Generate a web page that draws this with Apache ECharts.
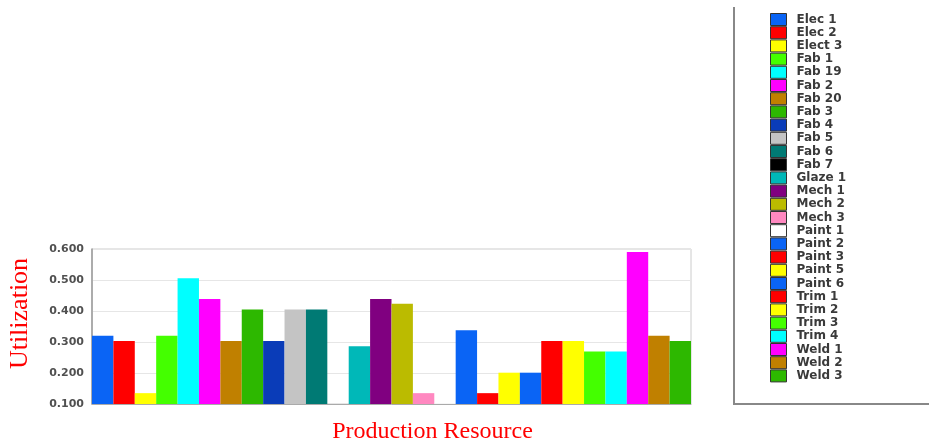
<!DOCTYPE html>
<html>
<head>
<meta charset="utf-8">
<script src="https://cdn.jsdelivr.net/npm/echarts@6/dist/echarts.min.js"></script>
<style>html,body{margin:0;padding:0;background:#fff;}#c{width:929px;height:443px;}</style>
</head>
<body>
<div id="c"></div>
<script>
const categories = ['Production Resource'];
const resources = ['Elec 1','Elec 2','Elect 3','Fab 1','Fab 19','Fab 2','Fab 20','Fab 3','Fab 4','Fab 5','Fab 6','Fab 7','Glaze 1','Mech 1','Mech 2','Mech 3','Paint 1','Paint 2','Paint 3','Paint 5','Paint 6','Trim 1','Trim 2','Trim 3','Trim 4','Weld 1','Weld 2','Weld 3'];
const utilization = [0.320,0.303,0.135,0.320,0.506,0.439,0.303,0.405,0.303,0.405,0.405,0.100,0.286,0.439,0.423,0.135,0.102,0.338,0.135,0.201,0.201,0.303,0.303,0.269,0.269,0.590,0.320,0.303];
const colors = ['#0a64f5','#ff0000','#ffff00','#44ff00','#00ffff','#ff00ff','#c08000','#2db800','#0a3cb8','#c4c4c4','#007a74','#000000','#00b8b8','#800080','#bbbb00','#ff88c0','#ffffff','#0a64f5','#ff0000','#ffff00','#0a64f5','#ff0000','#ffff00','#44ff00','#00ffff','#ff00ff','#c08000','#2db800'];
const yTicks = {min: 0.1, max: 0.6, interval: 0.1};

const chart = echarts.init(document.getElementById('c'), null, {renderer: 'canvas'});
const series = resources.map((name, i) => ({
  name: name,
  type: 'bar',
  data: [utilization[i]],
  barGap: '0%',
  barCategoryGap: '0%',
  itemStyle: {color: colors[i]}
}));
chart.setOption({
  animation: false,
  backgroundColor: '#fff',
  grid: {left: 92, right: 238, top: 249, bottom: 39, show: true, borderColor: '#cccccc', borderWidth: 1, outerBoundsMode: 'none', containLabel: false},
  xAxis: {
    type: 'category', data: categories,
    axisLabel: {show: false}, axisTick: {show: false},
    axisLine: {lineStyle: {color: '#aaaaaa', width: 1}},
    name: 'Production Resource', nameLocation: 'middle', nameGap: 16,
    nameTextStyle: {color: '#ff0000', fontFamily: 'Liberation Serif', fontSize: 24, padding: [0, 0, 0, 82]}
  },
  yAxis: {
    type: 'value', min: yTicks.min, max: yTicks.max, interval: yTicks.interval,
    axisLine: {show: true, lineStyle: {color: '#999999', width: 1.5}},
    axisTick: {show: false},
    splitLine: {lineStyle: {color: '#e6e6e6'}},
    axisLabel: {formatter: v => v.toFixed(3), color: '#505050', fontFamily: 'DejaVu Sans', fontWeight: 'bold', fontSize: 11, margin: 8},
    name: 'Utilization', nameLocation: 'middle', nameGap: 59, nameRotate: 90,
    nameTextStyle: {color: '#ff0000', fontFamily: 'Liberation Serif', fontSize: 26, padding: [0, 0, 0, 26]}
  },
  legend: {
    orient: 'vertical', left: 770, top: 13, padding: 0,
    itemWidth: 16, itemHeight: 12, itemGap: 0.2, icon: 'rect',
    itemStyle: {borderColor: '#333333', borderWidth: 1},
    textStyle: {color: '#3a3a3a', fontFamily: 'DejaVu Sans', fontWeight: 'bold', fontSize: 12, lineHeight: 12, padding: [0, 0, 0, 5]},
    data: resources
  },
  graphic: [
    {type: 'line', shape: {x1: 734, y1: 7, x2: 734, y2: 404}, style: {stroke: '#888888', lineWidth: 2}},
    {type: 'line', shape: {x1: 733, y1: 404, x2: 929, y2: 404}, style: {stroke: '#888888', lineWidth: 2}}
  ],
  series: series
});
</script>
</body>
</html>
